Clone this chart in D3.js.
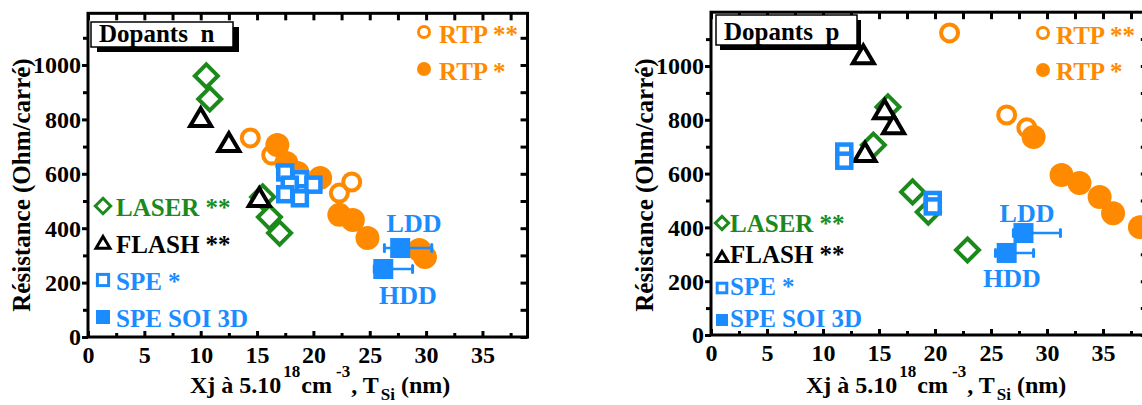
<!DOCTYPE html>
<html><head><meta charset="utf-8">
<script src="https://cdn.jsdelivr.net/npm/d3@7"></script>
<style>
html,body{margin:0;padding:0;background:#fff;}
svg{display:block;}
svg text, svg tspan{font-family:"Liberation Serif","Times New Roman",serif !important;font-weight:bold !important;}
</style></head>
<body>
<svg id="chart" width="1142" height="405" font-family="Liberation Serif" font-weight="bold"></svg>
<script>
// ---------- DATA ----------
const xTicks = [0, 5, 10, 15, 20, 25, 30, 35];
const yTicks = [0, 200, 400, 600, 800, 1000];
const xMinor = [2.5, 7.5, 12.5, 17.5, 22.5, 27.5, 32.5, 37.5];
const yMinor = [100, 300, 500, 700, 900, 1100];

// Dopants n  [x (nm), resistance]
const nLaser = [[10.5, 960], [10.8, 875], [15.5, 515], [16.1, 441], [17.0, 382]];
const nFlash = [[10.0, 805], [12.5, 713], [15.2, 511]];
const nRtp2 = [[14.4, 732], [16.3, 669], [22.3, 529], [23.4, 570]];
const nRtp1 = [[16.8, 706], [17.6, 640], [18.6, 603], [20.6, 585], [22.3, 449], [23.5, 430], [24.8, 364], [29.4, 320], [29.9, 294]];
const nSpe = [[17.5, 605], [18.8, 580], [20.0, 560], [17.9, 560], [17.5, 525], [18.8, 510]];
// [x, R, xErrMin, xErrMax]
const nSoi = [[27.7, 327, 26.3, 30.5], [26.2, 250, 25.4, 28.8]];

// Dopants p
const pLaser = [[14.5, 706], [15.8, 848], [18.0, 532], [19.4, 457], [22.9, 316]];
const pFlash = [[13.6, 1040], [13.75, 677], [15.5, 836], [16.3, 780]];
const pRtp2 = [[21.3, 1123], [26.4, 818], [28.2, 770]];
const pRtp1 = [[28.8, 736], [31.3, 595], [32.9, 565], [34.7, 513], [35.9, 453], [38.3, 401]];
const pSpe = [[11.9, 682], [11.9, 648], [19.8, 502], [19.8, 478]];
const pSoi = [[27.9, 379, 27.0, 31.2], [26.4, 305, 25.4, 28.8]];

const legendLabels = ["LASER **", "FLASH **", "SPE *", "SPE SOI 3D"];
const rtpLabels = ["RTP **", "RTP *"];
const soiLabels = ["LDD", "HDD"];
const panelTitles = ["Dopants  n", "Dopants  p"];
const yTitle = "Résistance (Ohm/carré)";

// ---------- STYLE ----------
const GREEN = "#1b8a1b", ORANGE = "#ff8a00", BLUE = "#1a8cff", BLACK = "#000";
const FONT = "Liberation Serif, Times New Roman, serif";

const svg = d3.select("#chart");

function diamondPath(cx, cy, r) {
  return `M${cx},${cy - r}L${cx + r},${cy}L${cx},${cy + r}L${cx - r},${cy}Z`;
}
function trianglePath(cx, cy, w) {
  const h = w * 0.85;
  return `M${cx},${cy - h * 0.55}L${cx + w / 2},${cy + h * 0.45}L${cx - w / 2},${cy + h * 0.45}Z`;
}

function drawPanel(cfg) {
  const g = svg.append("g");
  const x = d3.scaleLinear().domain([0, 39]).range(cfg.xRange);
  const y = d3.scaleLinear().domain(cfg.yDomain).range(cfg.yRange);
  const [x0, x1] = cfg.xRange;
  const [y0, y1] = cfg.yRange;

  function clean(sel) {
    sel.attr("font-family", FONT).attr("font-weight", "bold");
    sel.select(".domain").remove();
    sel.selectAll("line").attr("stroke-width", 3);
    return sel;
  }

  // axes
  const ax = g.append("g").attr("class", "axes");
  const yAx = clean(ax.append("g").attr("transform", `translate(${x0},0)`)
    .call(d3.axisLeft(y).tickValues(yTicks).tickSize(6).tickPadding(1).tickFormat(d3.format("d"))));
  yAx.selectAll("text").attr("font-size", 24).attr("fill", BLACK).attr("dy", "0.33em");
  clean(ax.append("g").attr("transform", `translate(${x0},0)`)
    .call(d3.axisLeft(y).tickValues(yMinor).tickSize(5).tickFormat("")));

  const xAx = clean(ax.append("g").attr("transform", `translate(0,${y0})`)
    .call(d3.axisBottom(x).tickValues(xTicks).tickSizeInner(-6).tickSizeOuter(0).tickPadding(9)));
  xAx.selectAll("text").attr("font-size", 24).attr("fill", BLACK);
  clean(ax.append("g").attr("transform", `translate(0,${y0})`)
    .call(d3.axisBottom(x).tickValues(xMinor).tickSizeInner(-4).tickSizeOuter(0).tickFormat("")));
  clean(ax.append("g").attr("transform", `translate(0,${y1})`)
    .call(d3.axisTop(x).tickValues(xTicks.concat(xMinor)).tickSizeInner(-7).tickSizeOuter(0).tickFormat("")));
  clean(ax.append("g").attr("transform", `translate(${x1},0)`)
    .call(d3.axisRight(y).tickValues(yTicks.concat(yMinor)).tickSizeInner(-7).tickSizeOuter(0).tickFormat("")));

  g.append("rect").attr("x", x0).attr("y", y1).attr("width", x1 - x0).attr("height", y0 - y1)
    .attr("fill", "none").attr("stroke", BLACK).attr("stroke-width", 3);

  // title box with shadow
  const tb = cfg.titleBox;
  g.append("rect").attr("x", tb.x + tb.sx).attr("y", tb.y + tb.sy).attr("width", tb.w).attr("height", tb.h).attr("fill", BLACK);
  g.append("rect").attr("x", tb.x).attr("y", tb.y).attr("width", tb.w).attr("height", tb.h)
    .attr("fill", "#fff").attr("stroke", BLACK).attr("stroke-width", 1.5);
  g.append("text").attr("x", tb.x + 8).attr("y", tb.base).attr("font-size", 25)
    .style("white-space", "pre").text(cfg.title);

  // data marks
  const m = g.append("g");
  m.selectAll(".rtp2").data(cfg.rtp2).join("circle")
    .attr("cx", d => x(d[0])).attr("cy", d => y(d[1])).attr("r", 8.5)
    .attr("fill", "#fff").attr("stroke", ORANGE).attr("stroke-width", 4);
  m.selectAll(".rtp1").data(cfg.rtp1).join("circle")
    .attr("cx", d => x(d[0])).attr("cy", d => y(d[1])).attr("r", 12)
    .attr("fill", ORANGE);
  m.selectAll(".laser").data(cfg.laser).join("path")
    .attr("d", d => diamondPath(x(d[0]), y(d[1]), 11.5))
    .attr("fill", "#fff").attr("stroke", GREEN).attr("stroke-width", 4);
  m.selectAll(".flash").data(cfg.flash).join("path")
    .attr("d", d => trianglePath(x(d[0]), y(d[1]), 21))
    .attr("fill", "#fff").attr("stroke", BLACK).attr("stroke-width", 4).attr("stroke-linejoin", "miter");
  m.selectAll(".spe").data(cfg.spe).join("rect")
    .attr("x", d => x(d[0]) - 7).attr("y", d => y(d[1]) - 7).attr("width", 14).attr("height", 14)
    .attr("fill", "#fff").attr("stroke", BLUE).attr("stroke-width", 4.5);
  const soi = m.selectAll(".soi").data(cfg.soi).join("g");
  soi.append("line").attr("x1", d => x(d[2])).attr("x2", d => x(d[3]))
    .attr("y1", d => y(d[1])).attr("y2", d => y(d[1])).attr("stroke", BLUE).attr("stroke-width", 2.5);
  soi.append("line").attr("x1", d => x(d[2])).attr("x2", d => x(d[2]))
    .attr("y1", d => y(d[1]) - 3.5).attr("y2", d => y(d[1]) + 3.5).attr("stroke", BLUE).attr("stroke-width", 3).attr("stroke-linecap", "round");
  soi.append("line").attr("x1", d => x(d[3])).attr("x2", d => x(d[3]))
    .attr("y1", d => y(d[1]) - 3.5).attr("y2", d => y(d[1]) + 3.5).attr("stroke", BLUE).attr("stroke-width", 3).attr("stroke-linecap", "round");
  soi.append("rect").attr("x", d => x(d[0]) - 10).attr("y", d => y(d[1]) - 10).attr("width", 20).attr("height", 20).attr("fill", BLUE);

  // LDD / HDD labels
  cfg.soiLab.forEach((p, i) => {
    g.append("text").attr("x", p[0]).attr("y", p[1]).attr("text-anchor", "middle")
      .attr("font-size", 26).attr("fill", BLUE).text(soiLabels[i]);
  });

  // RTP legend
  const rl = cfg.rtpLeg;
  g.append("circle").attr("cx", rl.cx).attr("cy", rl.y[0]).attr("r", 5.5).attr("fill", "#fff").attr("stroke", ORANGE).attr("stroke-width", 3);
  g.append("circle").attr("cx", rl.cx).attr("cy", rl.y[1]).attr("r", 7).attr("fill", ORANGE);
  rtpLabels.forEach((t, i) => {
    g.append("text").attr("x", rl.tx).attr("y", rl.base[i]).attr("font-size", 25).attr("fill", ORANGE).text(t);
  });

  // left legend
  const ll = cfg.leg;
  const ms = ll.ms;
  g.append("path").attr("d", diamondPath(ll.cx, ll.y[0], ms * 0.55)).attr("fill", "#fff").attr("stroke", GREEN).attr("stroke-width", 3);
  g.append("path").attr("d", trianglePath(ll.cx, ll.y[1], ms)).attr("fill", "#fff").attr("stroke", BLACK).attr("stroke-width", 3);
  g.append("rect").attr("x", ll.cx - ms * 0.4).attr("y", ll.y[2] - ms * 0.4).attr("width", ms * 0.8).attr("height", ms * 0.8)
    .attr("fill", "#fff").attr("stroke", BLUE).attr("stroke-width", 3);
  g.append("rect").attr("x", ll.cx - ms * 0.5).attr("y", ll.y[3] - ms * 0.5).attr("width", ms).attr("height", ms).attr("fill", BLUE);
  const legColors = [GREEN, BLACK, BLUE, BLUE];
  legendLabels.forEach((t, i) => {
    g.append("text").attr("x", ll.tx).attr("y", ll.base[i]).attr("font-size", 25).attr("fill", legColors[i]).text(t);
  });

  // axis titles
  g.append("text").attr("transform", `translate(${cfg.yTitleX},${cfg.yTitleY}) rotate(-90)`)
    .attr("text-anchor", "middle").attr("font-size", 25).text(yTitle);

  const xt = g.append("text").attr("x", cfg.xTitleX).attr("y", 393).attr("font-size", 24).attr("fill", BLACK);
  xt.append("tspan").text("Xj à 5.10");
  xt.append("tspan").attr("dy", -16).attr("dx", 2).attr("font-size", 17).text("18");
  xt.append("tspan").attr("dy", 16).attr("dx", 1).text("cm");
  xt.append("tspan").attr("dy", -16).attr("dx", 4).attr("font-size", 17).text("-3");
  xt.append("tspan").attr("dy", 16).attr("dx", 1).text(", T");
  xt.append("tspan").attr("dy", 7).attr("dx", 2).attr("font-size", 17).text("Si");
  xt.append("tspan").attr("dy", -7).attr("dx", 0).style("white-space", "pre").text(" (nm)");
}

drawPanel({
  xRange: [88, 88 + 39 * 11.27], yDomain: [0, 1190], yRange: [337, 337 - 1190 * 0.272],
  title: panelTitles[0],
  titleBox: { x: 91, y: 22, w: 142, h: 25, sx: 6, sy: 5, base: 42 },
  laser: nLaser, flash: nFlash, rtp2: nRtp2, rtp1: nRtp1, spe: nSpe, soi: nSoi,
  soiLab: [[414, 232], [408, 304]],
  rtpLeg: { cx: 424, y: [32, 69], tx: 439, base: [43, 80] },
  leg: { cx: 103, y: [206, 243, 280, 317], tx: 116, base: [216, 253, 290, 327], ms: 14 },
  yTitleX: 30, yTitleY: 185, xTitleX: 190
});

drawPanel({
  xRange: [711, 711 + 39 * 11.2], yDomain: [0, 1200], yRange: [335, 335 - 1200 * 0.269],
  title: panelTitles[1],
  titleBox: { x: 716, y: 15, w: 141, h: 30, sx: 4, sy: 5, base: 40 },
  laser: pLaser, flash: pFlash, rtp2: pRtp2, rtp1: pRtp1, spe: pSpe, soi: pSoi,
  soiLab: [[1027, 222], [1012, 287]],
  rtpLeg: { cx: 1043, y: [33, 70], tx: 1056, base: [44, 80] },
  leg: { cx: 722, y: [223, 257, 288, 320], tx: 730, base: [232, 263, 295, 327], ms: 12 },
  yTitleX: 653, yTitleY: 185, xTitleX: 806
});
</script>
</body></html>
